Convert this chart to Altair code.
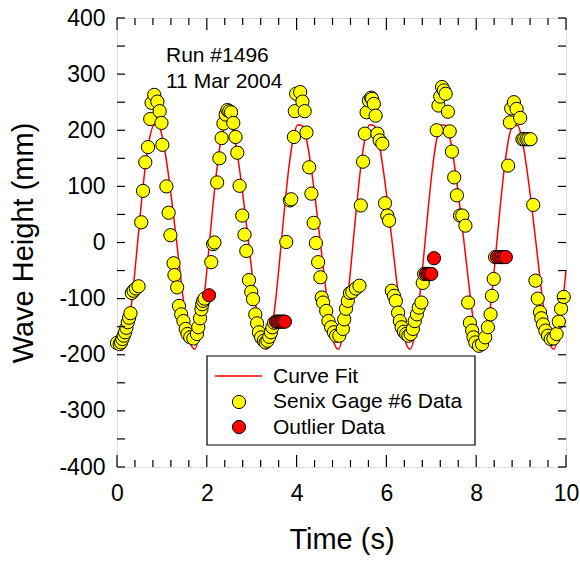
import altair as alt
import pandas as pd

# ---------------- data ----------------
gage_t = [0.00, 0.06, 0.09, 0.12, 0.15, 0.18, 0.21, 0.24, 0.27, 0.30,
          0.33, 0.37, 0.42, 0.48, 0.54, 0.58, 0.63, 0.69, 0.74, 0.77,
          0.83, 0.90, 0.95, 0.99, 1.01, 1.10, 1.15, 1.19, 1.26, 1.28,
          1.34, 1.38, 1.43, 1.48, 1.53, 1.57, 1.63, 1.70, 1.78, 1.81,
          1.85, 1.88, 1.90, 1.92, 1.95, 2.10, 2.14, 2.17, 2.23, 2.28,
          2.33, 2.37, 2.42, 2.46, 2.50, 2.54, 2.59, 2.64, 2.68, 2.73,
          2.79, 2.84, 2.88, 2.94, 2.99, 3.03, 3.08, 3.12, 3.16, 3.21,
          3.27, 3.31, 3.35, 3.39, 3.43, 3.46, 3.50, 3.77, 3.85, 3.88,
          3.94, 3.96, 3.99, 4.08, 4.13, 4.18, 4.22, 4.28, 4.33, 4.38,
          4.43, 4.48, 4.53, 4.56, 4.59, 4.66, 4.71, 4.77, 4.83, 4.88,
          4.95, 5.03, 5.06, 5.10, 5.14, 5.19, 5.24, 5.32, 5.40, 5.43,
          5.48, 5.52, 5.56, 5.61, 5.66, 5.68, 5.72, 5.76, 5.80, 5.85,
          5.91, 5.97, 6.02, 6.06, 6.12, 6.17, 6.21, 6.26, 6.30, 6.34,
          6.39, 6.44, 6.49, 6.54, 6.59, 6.63, 6.68, 6.72, 6.78, 6.81,
          6.84, 7.12, 7.16, 7.20, 7.24, 7.28, 7.32, 7.37, 7.41, 7.46,
          7.51, 7.57, 7.64, 7.69, 7.76, 7.82, 7.86, 7.91, 7.94, 7.98,
          8.06, 8.13, 8.20, 8.26, 8.32, 8.35, 8.39, 8.42, 8.71, 8.75,
          8.78, 8.84, 8.90, 8.98, 9.03, 9.07, 9.12, 9.16, 9.21, 9.27,
          9.32, 9.37, 9.42, 9.45, 9.49, 9.54, 9.60, 9.66, 9.72, 9.79,
          9.84, 9.89, 9.95]
gage_h = [-179, -181, -178, -172, -166, -160, -152, -142, -134, -126,
          -90, -86, -82, -78, 36, 92, 143, 170, 220, 249,
          263, 251, 234, 213, 174, 100, 53, 13, -37, -58,
          -80, -113, -128, -140, -154, -163, -169, -171, -163, -151,
          -135, -119, -110, -104, -100, -35, -3, 0, 107, 150,
          186, 212, 228, 236, 234, 232, 213, 188, 160, 101,
          48, 14, -15, -67, -88, -101, -128, -144, -160, -169,
          -175, -178, -175, -168, -160, -151, -143, 1, 75, 77,
          188, 234, 265, 268, 251, 234, 196, 134, 87, 35,
          -1, -35, -62, -98, -107, -122, -140, -151, -160, -166,
          -166, -154, -137, -118, -104, -90, -88, -82, -77, 66,
          144, 194, 232, 253, 258, 256, 247, 226, 194, 182,
          176, 70, 48, 39, -86, -95, -104, -125, -140, -151,
          -159, -163, -166, -163, -154, -140, -128, -116, -107, -72,
          -56, 200, 244, 260, 277, 271, 265, 233, 198, 162,
          116, 84, 48, 48, 30, -107, -143, -157, -169, -178,
          -184, -181, -169, -151, -128, -95, -65, -26, 137, 214,
          239, 250, 238, 222, 184, 184, 184, 184, 184, 67,
          -68, -100, -124, -135, -146, -157, -166, -172, -171, -163,
          -141, -118, -97]

outlier_t = [2.05, 3.54, 3.58, 3.62, 3.66, 3.70, 3.74,
             6.88, 6.92, 6.96, 7.00, 7.06,
             8.46, 8.51, 8.56, 8.61, 8.66]
outlier_h = [-94, -141, -141, -141, -141, -141, -141,
             -56, -56, -56, -56, -28,
             -26, -26, -26, -26, -26]

# curve fit sampled at t = 0, 0.03, 0.13, ..., 9.93, 10
curve_t = [0.0] + [round(0.03 + 0.1 * i, 2) for i in range(100)] + [10.0]
curve_h = [-165, -178,
           -190, -165, -105, -25, 60, 135, 188, 210, 208, 180, 130, 68, 0, -70, -135, -178,
           -190, -165, -105, -25, 60, 135, 188, 210, 208, 180, 130, 68, 0, -70, -135, -178,
           -190, -165, -105, -25, 60, 135, 188, 210, 208, 180, 130, 68, 0, -70, -135, -178,
           -190, -165, -105, -25, 60, 135, 188, 210, 208, 180, 130, 68, 0, -70, -135, -178,
           -190, -165, -105, -25, 60, 135, 188, 210, 208, 180, 130, 68, 0, -70, -135, -178,
           -190, -165, -105, -25, 60, 135, 188, 210, 208, 180, 130, 68, 0, -70, -135, -178,
           -190, -165, -105,
           -49]

x_major = [0, 2, 4, 6, 8, 10]
x_minor = [0.4, 0.8, 1.2, 1.6, 2.4, 2.8, 3.2, 3.6, 4.4, 4.8, 5.2, 5.6,
           6.4, 6.8, 7.2, 7.6, 8.4, 8.8, 9.2, 9.6]
y_major = [-400, -300, -200, -100, 0, 100, 200, 300, 400]
y_minor = [-350, -250, -150, -50, 50, 150, 250, 350]

legend_labels = ["Curve Fit", "Senix Gage #6 Data", "Outlier Data"]
note_lines = ["Run #1496", "11 Mar 2004"]

FONT = "Liberation Sans"
W, H = 449, 449

xs = alt.Scale(domain=[0, 10], nice=False, zero=False)
ys = alt.Scale(domain=[-400, 400], nice=False, zero=False)

gage = pd.DataFrame({"t": gage_t, "h": gage_h})
outl = pd.DataFrame({"t": outlier_t, "h": outlier_h})
curve = pd.DataFrame({"t": curve_t, "h": curve_h})

base_x = alt.X("t:Q", scale=xs, axis=alt.Axis(
    title="Time (s)", values=x_major, ticks=False, tickSize=0, grid=False, domain=False,
    labelFlush=False, labelOverlap=False, labelExpr="'' + datum.value",
    labelFont=FONT, labelFontSize=23, labelColor="black", labelPadding=15,
    titleFont=FONT, titleFontSize=29, titleFontWeight="normal", titleColor="black",
    titlePadding=20))
base_y = alt.Y("h:Q", scale=ys, axis=alt.Axis(
    title="Wave Height (mm)", values=y_major, ticks=False, tickSize=0, grid=False, domain=False,
    labelFlush=False, labelOverlap=False, labelExpr="'' + datum.value",
    labelFont=FONT, labelFontSize=23, labelColor="black", labelPadding=12,
    titleFont=FONT, titleFontSize=29, titleFontWeight="normal", titleColor="black",
    titlePadding=20))

line = alt.Chart(curve).mark_line(color="#ff0000", strokeWidth=1.5, interpolate="monotone").encode(
    x=base_x, y=base_y)

pts = alt.Chart(gage).mark_point(shape="circle", filled=True, fill="#ffff00", stroke="black",
                                 strokeWidth=1, size=175, opacity=1).encode(
    x=alt.X("t:Q", scale=xs), y=alt.Y("h:Q", scale=ys))

red = alt.Chart(outl).mark_point(shape="circle", filled=True, fill="#ff0000", stroke="black",
                                 strokeWidth=1, size=175, opacity=1).encode(
    x=alt.X("t:Q", scale=xs), y=alt.Y("h:Q", scale=ys))

# ticks (inward, on all four sides)
xmaj = pd.DataFrame({"t": x_major})
xmin = pd.DataFrame({"t": x_minor})
ymaj = pd.DataFrame({"h": y_major})
ymin = pd.DataFrame({"h": y_minor})

def xticks(df, length):
    b = alt.Chart(df).mark_rule(color="black", strokeWidth=1.2).encode(
        x=alt.X("t:Q", scale=xs), y=alt.value(H), y2=alt.value(H - length))
    t = alt.Chart(df).mark_rule(color="black", strokeWidth=1.2).encode(
        x=alt.X("t:Q", scale=xs), y=alt.value(0), y2=alt.value(length))
    return b + t

def yticks(df, length):
    l = alt.Chart(df).mark_rule(color="black", strokeWidth=1.2).encode(
        y=alt.Y("h:Q", scale=ys), x=alt.value(0), x2=alt.value(length))
    r = alt.Chart(df).mark_rule(color="black", strokeWidth=1.2).encode(
        y=alt.Y("h:Q", scale=ys), x=alt.value(W), x2=alt.value(W - length))
    return l + r

ticks = xticks(xmaj, 12) + xticks(xmin, 7) + yticks(ymaj, 8) + yticks(ymin, 8)

one = pd.DataFrame({"k": [0]})

def text_at(txt, x, y):
    return alt.Chart(one).mark_text(align="left", baseline="alphabetic", font=FONT,
                                    fontSize=21, color="black", text=txt).encode(
        x=alt.value(x), y=alt.value(y))

# annotation
note1 = text_at(note_lines[0], 49, 44)
note2 = text_at(note_lines[1], 49, 70)

# legend (drawn by hand)
leg_box = alt.Chart(one).mark_rect(fill="white", stroke="black", strokeWidth=1.2).encode(
    x=alt.value(90), x2=alt.value(358), y=alt.value(338), y2=alt.value(427))
leg_line = alt.Chart(one).mark_rule(color="#ff0000", strokeWidth=1.5).encode(
    x=alt.value(98), x2=alt.value(145), y=alt.value(358))
leg_y = alt.Chart(one).mark_point(shape="circle", filled=True, fill="#ffff00",
                                  stroke="black", strokeWidth=1, size=175, opacity=1).encode(
    x=alt.value(122), y=alt.value(384))
leg_r = alt.Chart(one).mark_point(shape="circle", filled=True, fill="#ff0000",
                                  stroke="black", strokeWidth=1, size=175, opacity=1).encode(
    x=alt.value(122), y=alt.value(409))
leg_t1 = text_at(legend_labels[0], 156, 365)
leg_t2 = text_at(legend_labels[1], 156, 390)
leg_t3 = text_at(legend_labels[2], 156, 416)

chart = alt.layer(line, pts, red, ticks, note1, note2, leg_box, leg_line, leg_y, leg_r,
                  leg_t1, leg_t2, leg_t3).properties(
    width=W, height=H,
    autosize=alt.AutoSizeParams(type="none"),
    padding={"left": 117, "top": 18, "right": 14, "bottom": 94},
).configure_view(stroke="black", strokeWidth=1.5).configure(background="white")

chart.save("out.html", embed_options={"renderer": "svg", "actions": False})
